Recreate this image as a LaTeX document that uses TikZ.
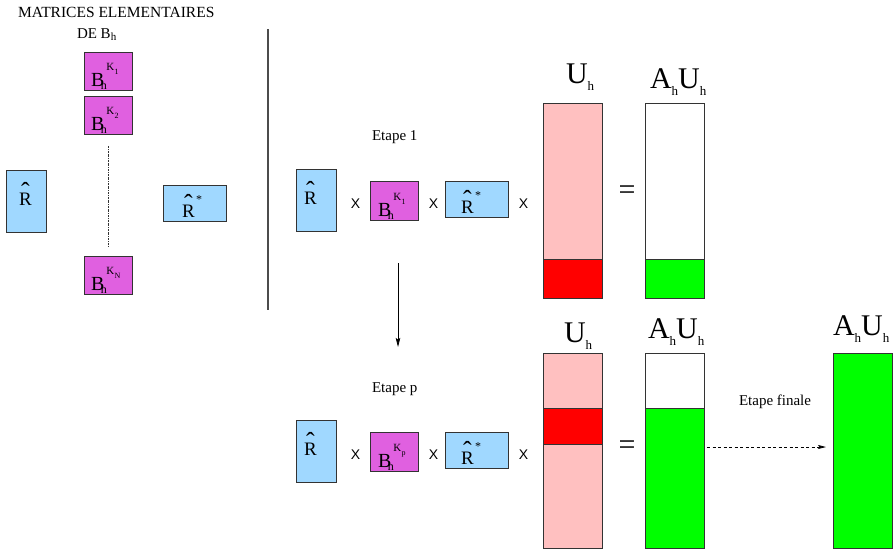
\documentclass[tikz,border=0pt]{standalone}
\usepackage{fontspec}
\setmainfont{Liberation Serif}
\newfontfamily\hvfont{Liberation Sans}
\usetikzlibrary{arrows.meta}
\definecolor{ltblue}{RGB}{160,216,255}
\definecolor{magc}{RGB}{224,96,224}
\definecolor{pinkc}{RGB}{255,192,192}
\definecolor{redc}{RGB}{255,0,0}
\definecolor{greenc}{RGB}{0,255,0}
\newcommand\fs[1]{\fontsize{#1}{#1}\selectfont}
\newcommand\Bhk[1]{{\fs{20}B}\kern-3.5pt\raisebox{-3pt}{\fs{12}h}\kern-0.5pt\raisebox{15.5pt}{\fs{11}K\kern0.3pt\raisebox{-3.5pt}{\fs{8}#1}}}
\newcommand\Rhat{{\fs{19}\setbox0\hbox{R}\rlap{\hbox to\wd0{\hss\raisebox{4.5pt}{\fs{26}ˆ}\hss}}R}}
\newcommand\Rstar{\Rhat\kern1.5pt\raisebox{14pt}{\fs{12}*}}
\newcommand\Uh{{\fs{30}U}\raisebox{-7pt}{\fs{13}h}}
\newcommand\Ah{{\fs{30}A}\raisebox{-7pt}{\fs{13}h}}
\tikzset{
  box/.style={draw=black!80, line width=0.8pt, inner sep=0pt, outer sep=0pt},
  bluebox/.style={box, fill=ltblue},
  magbox/.style={box, fill=magc, minimum width=48pt, minimum height=38pt},
  rbox/.style={bluebox, minimum width=40pt, minimum height=62pt},
  rsbox/.style={bluebox, minimum width=63pt, minimum height=36pt},
  colbox/.style={box, minimum width=59pt},
  txt/.style={anchor=base west, inner sep=0pt, outer sep=0pt},
  xsign/.style={inner sep=0pt, font=\hvfont\fs{14}},
  eqsign/.style={inner sep=0pt, font=\fs{30}},
  label/.style={txt, font=\fs{15}},
}
\begin{document}
\begin{tikzpicture}[x=1pt,y=-1pt]
\useasboundingbox (0,0) rectangle (893,550);
% ---------- left panel ----------
\node[label] (title) at (18,17) {\fs{15.5}MATRICES ELEMENTAIRES};
\node[label] (deb) at (77,38) {DE B\raisebox{-2.5pt}{\fs{11}h}};
\node[magbox] (k1) at (108,71) {};
\node[magbox] (k2) at (108,115) {};
\node[magbox] (kn) at (108,275) {};
\node[txt] (k1t) at (91,86) {\Bhk{1}};
\node[txt] (k2t) at (91,130) {\Bhk{2}};
\node[txt] (knt) at (91,290) {\Bhk{N}};
\coordinate (dtop) at (108,146);
\coordinate (dbot) at (108,247);
\draw[black!80, line width=0.8pt, dash pattern=on 2pt off 1pt on 0.6pt off 1pt] (dtop) -- (dbot);
\node[rbox] (r0) at (26,201) {};
\node[txt] (r0t) at (19,205) {\Rhat};
\node[rsbox] (rs0) at (194.5,203) {};
\node[txt] (rs0t) at (182,217) {\Rstar};
\coordinate (vtop) at (268,29);
\coordinate (vbot) at (268,310);
\draw[black!70, line width=1.3pt] (vtop) -- (vbot);
% ---------- row 1 ----------
\node[label] (et1) at (372,140) {Etape 1};
\node[rbox] (r1) at (316,200.5) {};
\node[txt] (r1t) at (304,204) {\Rhat};
\node[xsign] (x1a) at (355.5,204) {X};
\node[magbox, minimum height=39pt] (b1) at (394,200.5) {};
\node[txt] (b1t) at (378,216) {\Bhk{1}};
\node[xsign] (x1b) at (433.5,204) {X};
\node[rsbox] (rs1) at (476.5,199) {};
\node[txt] (rs1t) at (461,213) {\Rstar};
\node[xsign] (x1c) at (523.5,204) {X};
\node[colbox, fill=pinkc, minimum height=195pt] (u1) at (572.5,200.5) {};
\node[colbox, fill=redc, minimum height=39pt] (u1r) at (572.5,278.5) {};
\node[eqsign] (eq1) at (627,192.5) {=};
\node[colbox, fill=white, minimum height=195pt] (a1) at (674.5,200.5) {};
\node[colbox, fill=greenc, minimum height=39pt] (a1g) at (674.5,278.5) {};
\node[txt] (u1l) at (566,83) {\Uh};
\node[txt] (a1l) at (650,88) {\Ah\Uh};
% ---------- transition arrow ----------
\coordinate (atop) at (398,263);
\coordinate (abot) at (398,347);
\draw[black, line width=0.8pt, -{Stealth[length=9pt,width=4.5pt,inset=1.5pt]}] (atop) -- (abot);
% ---------- row 2 ----------
\node[label] (etp) at (372,392) {Etape p};
\node[rbox] (r2) at (316,451.5) {};
\node[txt] (r2t) at (304,455) {\Rhat};
\node[xsign] (x2a) at (355.5,455) {X};
\node[magbox, minimum height=39pt] (b2) at (394,451.5) {};
\node[txt] (b2t) at (378,467) {\Bhk{p}};
\node[xsign] (x2b) at (433.5,455) {X};
\node[rsbox] (rs2) at (476.5,450) {};
\node[txt] (rs2t) at (461,464) {\Rstar};
\node[xsign] (x2c) at (523.5,455) {X};
\node[colbox, fill=pinkc, minimum height=195pt] (u2) at (572.5,450.5) {};
\node[colbox, fill=redc, minimum height=36pt] (u2r) at (572.5,426) {};
\node[eqsign] (eq2) at (627,448) {=};
\node[colbox, fill=white, minimum height=195pt] (a2) at (674.5,450.5) {};
\node[colbox, fill=greenc, minimum height=140pt] (a2g) at (674.5,478) {};
\node[txt] (u2l) at (564,342) {\Uh};
\node[txt] (a2l) at (648,338) {\Ah\Uh};
\node[label] (etf) at (739,405) {Etape finale};
\node[colbox, fill=greenc, minimum height=195pt] (fin) at (862.5,450.5) {};
\node[txt] (finl) at (833,335) {\Ah\Uh};
\coordinate (dstart) at (707,447);
\coordinate (dend) at (826,447);
\draw[black, line width=0.8pt, dash pattern=on 3pt off 2.5pt, -{Stealth[length=8pt,width=4pt,inset=1.5pt]}] (dstart) -- (dend);
\end{tikzpicture}
\end{document}
